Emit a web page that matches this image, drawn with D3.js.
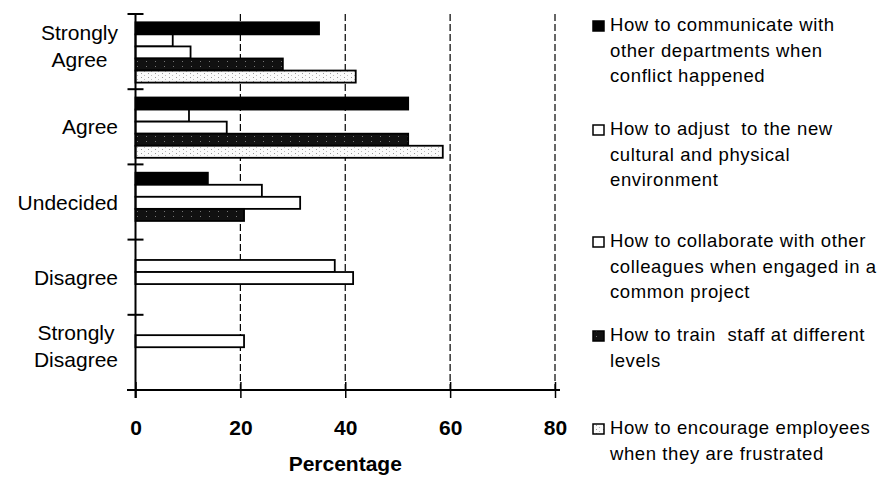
<!DOCTYPE html>
<html>
<head>
<meta charset="utf-8">
<script src="https://cdn.jsdelivr.net/npm/d3@7"></script>
<style>
  body { margin: 0; background: #fff; }
  svg { display: block; font-family: "Liberation Sans", Arial, sans-serif; }
</style>
</head>
<body>
<div id="chart"></div>
<script>
var svgWidth = 881;
var svgHeight = 481;

// Data (percent of respondents)
var categories = ["Strongly Agree", "Agree", "Undecided", "Disagree", "Strongly Disagree"];
var categoryLines = [["Strongly", "Agree"], ["Agree"], ["Undecided"], ["Disagree"], ["Strongly", "Disagree"]];
var seriesKeys = ["communicate", "adjust", "collaborate", "train", "encourage"];

var communicate = [35.0, 52.0, 13.8, 0, 0];
var adjust = [7.1, 10.2, 24.1, 38.0, 20.7];
var collaborate = [10.5, 17.4, 31.4, 41.5, 0];
var train = [28.1, 52.0, 20.7, 0, 0];
var encourage = [42.0, 58.6, 0, 0, 0];

var xTicks = [0, 20, 40, 60, 80];
var xTitle = "Percentage";

var legendLines = [
  ["How to communicate with", "other departments when", "conflict happened"],
  ["How to adjust  to the new", "cultural and physical", "environment"],
  ["How to collaborate with other", "colleagues when engaged in a", "common project"],
  ["How to train  staff at different", "levels"],
  ["How to encourage employees", "when they are frustrated"]
];

var seriesValues = {
  communicate: communicate,
  adjust: adjust,
  collaborate: collaborate,
  train: train,
  encourage: encourage
};

// styles per series
var fills = {
  communicate: "#000",
  adjust: "#fff",
  collaborate: "#fff",
  train: "url(#darkDots)",
  encourage: "url(#lightSpecks)"
};

var svg = d3.select("#chart")
  .append("svg")
  .attr("width", svgWidth)
  .attr("height", svgHeight);

// textures to mimic the scanned hatch fills
var defs = svg.append("defs");
var dark = defs.append("pattern")
  .attr("id", "darkDots")
  .attr("patternUnits", "userSpaceOnUse")
  .attr("width", 9).attr("height", 5);
dark.append("rect").attr("width", 9).attr("height", 5).attr("fill", "#111");
dark.append("rect").attr("x", 2).attr("y", 1).attr("width", 1).attr("height", 1).attr("fill", "#777");

var light = defs.append("pattern")
  .attr("id", "lightSpecks")
  .attr("patternUnits", "userSpaceOnUse")
  .attr("width", 7).attr("height", 4);
light.append("rect").attr("width", 7).attr("height", 4).attr("fill", "#fafafa");
light.append("rect").attr("x", 1).attr("y", 1).attr("width", 1).attr("height", 1).attr("fill", "#999");
light.append("rect").attr("x", 4).attr("y", 3).attr("width", 1).attr("height", 1).attr("fill", "#bbb");

// scales
var xScale = d3.scaleLinear()
  .domain([0, 80])
  .range([135.5, 555]);

var yScale = d3.scaleBand()
  .domain(categories)
  .range([14, 390]);

var ySub = d3.scaleBand()
  .domain(seriesKeys)
  .range([8.3, 68.6]);

// dashed gridlines
svg.append("g")
  .selectAll("line")
  .data(xTicks.filter(d => d > 0))
  .enter()
  .append("line")
  .attr("x1", d => xScale(d))
  .attr("x2", d => xScale(d))
  .attr("y1", 14)
  .attr("y2", 390)
  .attr("stroke", "#000")
  .attr("stroke-width", 1.2)
  .attr("stroke-dasharray", "7,3");

// bars
var barData = [];
seriesKeys.forEach(function (key) {
  seriesValues[key].forEach(function (v, i) {
    if (v > 0) barData.push({ key: key, cat: categories[i], value: v });
  });
});

svg.append("g")
  .selectAll("rect")
  .data(barData)
  .enter()
  .append("rect")
  .attr("x", xScale(0))
  .attr("y", d => yScale(d.cat) + ySub(d.key))
  .attr("width", d => xScale(d.value) - xScale(0))
  .attr("height", ySub.bandwidth())
  .attr("fill", d => fills[d.key])
  .attr("stroke", "#000")
  .attr("stroke-width", 1.8);

// y axis with crossing ticks on the band edges
var yAxisG = svg.append("g");
yAxisG.append("line")
  .attr("x1", xScale(0)).attr("x2", xScale(0))
  .attr("y1", 14).attr("y2", 398)
  .attr("stroke", "#000").attr("stroke-width", 2);

yAxisG.selectAll("line.tick")
  .data(d3.range(categories.length + 1))
  .enter()
  .append("line")
  .attr("class", "tick")
  .attr("x1", xScale(0) - 8)
  .attr("x2", xScale(0) + 8)
  .attr("y1", i => 14 + i * yScale.step())
  .attr("y2", i => 14 + i * yScale.step())
  .attr("stroke", "#000")
  .attr("stroke-width", 2);

// y labels: block right-aligned, lines centred inside it
categories.forEach(function (cat, i) {
  var lines = categoryLines[i];
  var center = yScale(cat) + yScale.bandwidth() / 2;
  var n = lines.length;
  var texts = lines.map(function (ln, k) {
    return svg.append("text")
      .attr("y", center + 7.5 + (k - (n - 1) / 2) * 27 - (n > 1 ? 6 : 0))
      .attr("text-anchor", "middle")
      .style("font-size", "21px")
      .attr("fill", "#000")
      .text(ln);
  });
  var maxW = d3.max(texts, t => t.node().getComputedTextLength());
  texts.forEach(t => t.attr("x", 118 - maxW / 2));
});

// x axis
var bottomAxis = d3.axisBottom(xScale)
  .tickValues(xTicks)
  .tickFormat(d3.format("d"));

var xAxis = svg.append("g")
  .attr("transform", "translate(0, 390)")
  .call(bottomAxis);

xAxis.select(".domain").remove();
xAxis.selectAll(".tick line")
  .attr("y1", -8)
  .attr("y2", 8)
  .attr("stroke", "#000")
  .attr("stroke-width", 1.5);
xAxis.selectAll(".tick text")
  .attr("y", 45)
  .attr("dy", 0)
  .attr("fill", "#000")
  .style("font-size", "21px")
  .style("font-weight", "bold")
  .style("font-family", "'Liberation Sans', Arial, sans-serif");

svg.append("line")
  .attr("x1", 127).attr("x2", 560)
  .attr("y1", 390).attr("y2", 390)
  .attr("stroke", "#000").attr("stroke-width", 2);

svg.append("text")
  .attr("x", (xScale(0) + xScale(80)) / 2)
  .attr("y", 471)
  .attr("text-anchor", "middle")
  .style("font-size", "21px")
  .style("font-weight", "bold")
  .text(xTitle);

// legend
var legendTop = [31, 135, 247, 341, 434];
var legend = svg.append("g");
seriesKeys.forEach(function (key, i) {
  var base = legendTop[i];
  legend.append("rect")
    .attr("x", 593)
    .attr("y", base - 10)
    .attr("width", 11)
    .attr("height", 10)
    .attr("fill", fills[key])
    .attr("stroke", "#000")
    .attr("stroke-width", 1.5);
  legendLines[i].forEach(function (ln, k) {
    legend.append("text")
      .attr("x", 610)
      .attr("y", base + k * 25.5)
      .style("font-size", "18.5px")
      .style("letter-spacing", "0.6px")
      .style("white-space", "pre")
      .attr("fill", "#000")
      .text(ln);
  });
});
</script>
</body>
</html>
